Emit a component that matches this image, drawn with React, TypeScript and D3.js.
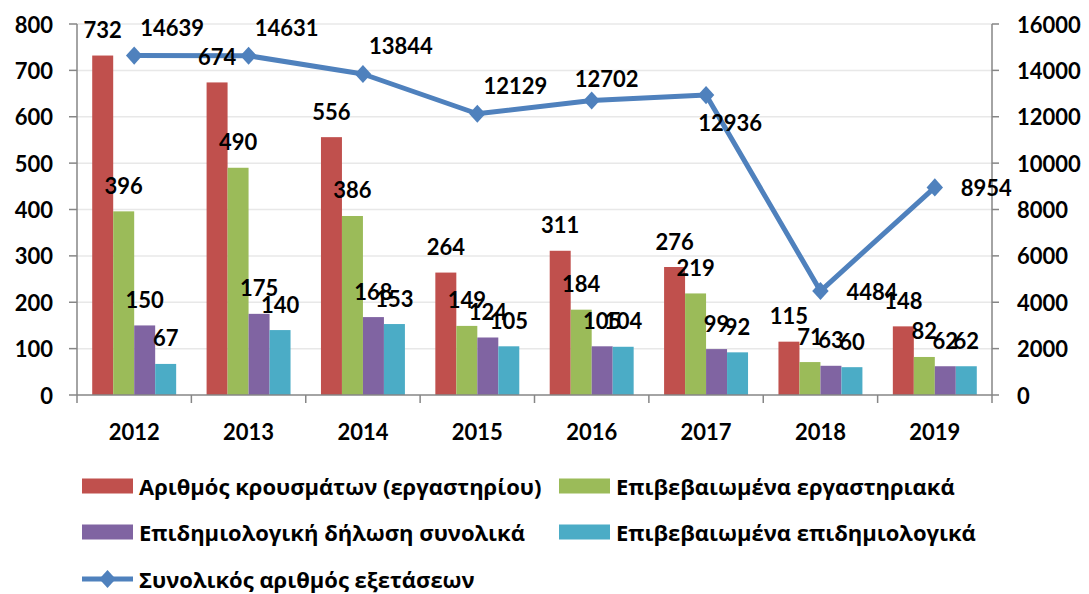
import React from "react";
import * as d3 from "d3";

const years = ["2012", "2013", "2014", "2015", "2016", "2017", "2018", "2019"];
const labCases = [732, 674, 556, 264, 311, 276, 115, 148];
const labConfirmed = [396, 490, 386, 149, 184, 219, 71, 82];
const epiDeclared = [150, 175, 168, 124, 105, 99, 63, 62];
const epiConfirmed = [67, 140, 153, 105, 104, 92, 60, 62];
const totalTests = [14639, 14631, 13844, 12129, 12702, 12936, 4484, 8954];

const leftTicks = [0, 100, 200, 300, 400, 500, 600, 700, 800];
const rightTicks = [0, 2000, 4000, 6000, 8000, 10000, 12000, 14000, 16000];

const barSeries = [
  { key: "cases", name: "Αριθμός κρουσμάτων (εργαστηρίου)", color: "#C0504D", values: labCases },
  { key: "labConf", name: "Επιβεβαιωμένα εργαστηριακά", color: "#9BBB59", values: labConfirmed },
  { key: "epiDecl", name: "Επιδημιολογική δήλωση συνολικά", color: "#8064A2", values: epiDeclared },
  { key: "epiConf", name: "Επιβεβαιωμένα επιδημιολογικά", color: "#4BACC6", values: epiConfirmed },
];
const lineName = "Συνολικός αριθμός εξετάσεων";
const lineColor = "#4F81BD";
// where each line label sits relative to its point
const linePlacement = ["tr", "tr", "tr", "tr", "t", "b", "r", "r"];

const W = 1089, H = 594;
const left = 77, right = 992, top = 24, bottom = 395;
const numFont = "Lato, 'Open Sans', sans-serif";
const textFont = "'Open Sans', sans-serif";

export default function App() {
  const pad = 0.266;
  const x0 = d3.scaleBand().domain(years).range([left, right]).paddingInner(pad).paddingOuter(pad / 2);
  const x1 = d3.scaleBand().domain(barSeries.map(s => s.key)).range([0, x0.bandwidth()]);
  const yL = d3.scaleLinear().domain([0, 800]).range([bottom, top]);
  const yR = d3.scaleLinear().domain([0, 16000]).range([bottom, top]);

  const cx = (y: string) => (x0(y) as number) + x0.bandwidth() / 2;
  const line = d3.line<number>().x((_, i) => cx(years[i])).y(d => yR(d));
  const marker = d3.symbol().type(d3.symbolSquare).size(150)() as string;
  const markerT = "rotate(45) scale(1)";

  const offsets: Record<string, [number, number, string]> = {
    tr: [38, -28, "middle"],
    t: [15, -22, "middle"],
    b: [24, 27, "middle"],
    r: [26, 0, "start"],
  };

  const axisColor = "#868686";
  const boundaries = years.map(y => (x0(y) as number) - (x0.step() * pad) / 2).concat([right]);

  const legendRows = [
    [{ s: barSeries[0], x: 82 }, { s: barSeries[1], x: 559 }],
    [{ s: barSeries[2], x: 82 }, { s: barSeries[3], x: 559 }],
  ];

  return (
    <svg width={W} height={H} style={{ position: "absolute", left: 0, top: 0, background: "#fff" }}>
      {/* gridlines */}
      {leftTicks.slice(1).map(t => (
        <line key={t} x1={left} x2={right} y1={yL(t)} y2={yL(t)} stroke="#E8E8E8" strokeWidth={1.5} />
      ))}

      {/* bars */}
      {years.map((yr, i) => (
        <g key={yr} transform={`translate(${x0(yr)},0)`}>
          {barSeries.map(s => (
            <rect key={s.key} x={x1(s.key)} y={yL(s.values[i])} width={x1.bandwidth()}
              height={bottom - yL(s.values[i])} fill={s.color} />
          ))}
        </g>
      ))}

      {/* axes */}
      <g stroke={axisColor} strokeWidth={1.5}>
        <line x1={left} x2={left} y1={top} y2={bottom} />
        <line x1={right} x2={right} y1={top} y2={bottom} />
        <line x1={left} x2={right} y1={bottom} y2={bottom} />
        {leftTicks.map(t => <line key={"l" + t} x1={left - 8} x2={left} y1={yL(t)} y2={yL(t)} />)}
        {rightTicks.map(t => <line key={"r" + t} x1={right} x2={right + 7} y1={yR(t)} y2={yR(t)} />)}
        {boundaries.map((b, i) => <line key={"b" + i} x1={b} x2={b} y1={bottom} y2={bottom + 8} />)}
      </g>

      <g fontFamily={numFont} fontWeight="bold" fontSize={22} fill="#000">
        {leftTicks.map(t => (
          <text key={t} x={53} y={yL(t)} textAnchor="end" dominantBaseline="central">{t}</text>
        ))}
        {rightTicks.map(t => (
          <text key={t} x={1017} y={yR(t)} textAnchor="start" dominantBaseline="central">{t}</text>
        ))}
        {years.map(yr => (
          <text key={yr} x={cx(yr)} y={431} textAnchor="middle" dominantBaseline="central">{yr}</text>
        ))}
      </g>

      {/* line */}
      <path d={line(totalTests) as string} fill="none" stroke={lineColor} strokeWidth={5} strokeLinejoin="round" />
      {totalTests.map((v, i) => (
        <g key={i} transform={`translate(${cx(years[i])},${yR(v)}) scale(0.95,1.05)`}>
          <path d={marker} transform={markerT} fill={lineColor} />
        </g>
      ))}

      {/* bar labels */}
      <g fontFamily={numFont} fontWeight="bold" fontSize={22} fill="#000">
        {years.map((yr, i) =>
          barSeries.map(s => (
            <text key={yr + s.key} x={(x0(yr) as number) + (x1(s.key) as number) + x1.bandwidth() / 2}
              y={yL(s.values[i]) - 26} textAnchor="middle" dominantBaseline="central">{s.values[i]}</text>
          ))
        )}
        {totalTests.map((v, i) => {
          const [dx, dy, anchor] = offsets[linePlacement[i]];
          return (
            <text key={"t" + i} x={cx(years[i]) + dx} y={yR(v) + dy} textAnchor={anchor}
              dominantBaseline="central">{v}</text>
          );
        })}
      </g>

      {/* legend */}
      <g fontFamily={textFont} fontWeight="bold" fontSize={22} fill="#000">
        {legendRows.map((row, r) =>
          row.map(({ s, x }) => (
            <g key={s.key} transform={`translate(${x},${486 + r * 46})`}>
              <rect x={0} y={-7.5} width={51} height={15} fill={s.color} />
              <text x={57} y={0} dominantBaseline="central">{s.name}</text>
            </g>
          ))
        )}
        <g transform="translate(82,579)">
          <line x1={0} x2={51} y1={0} y2={0} stroke={lineColor} strokeWidth={5} />
          <g transform="translate(25.5,0) scale(0.95,1.05)">
            <path d={marker} transform={markerT} fill={lineColor} />
          </g>
          <text x={57} y={0} dominantBaseline="central">{lineName}</text>
        </g>
      </g>
    </svg>
  );
}
